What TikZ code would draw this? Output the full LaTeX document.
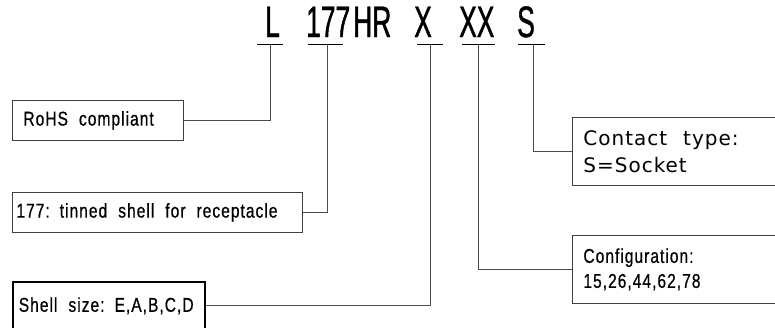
\documentclass[tikz,border=0pt]{standalone}
\usepackage{fontspec}
\setmainfont{Liberation Sans}
\newfontfamily\codefont[FakeStretch=0.6,FakeBold=1]{Liberation Sans}
\newfontfamily\cadfont[FakeStretch=0.78,FakeBold=0.6,LetterSpace=5]{Liberation Sans}
\newfontfamily\roundfont[LetterSpace=5]{DejaVu Sans}
\protected\def\cadsize{\fontsize{20}{25}\selectfont\parindent=0pt\fontdimen2\font=11pt\relax}
\protected\def\roundsize{\fontsize{20}{27}\selectfont\parindent=0pt\fontdimen2\font=16pt\relax}
\usetikzlibrary{positioning}

\begin{document}
\begin{tikzpicture}[
    x=1pt, y=-1pt,
    code/.style={
		anchor=base west,
		inner sep=0pt,
		font=\codefont\fontsize{44}{44}\selectfont
	},
	part/.style={
		rectangle,
		draw=black!75,
		line width=0.8pt,
		anchor=north west,
		inner ysep=0pt,
		font=\cadfont\cadsize,
		execute at begin node={\spaceskip=11pt plus 2pt\relax}
	},
	tick/.style={
		draw=black,
		line width=0.8pt
	},
	lead/.style={
		draw=black!70,
		line width=0.8pt
	}
  ]
  \useasboundingbox (0,0) rectangle (775,327);

    % We start by placing the part number

  \node [code] (cL) at (265,37) {L};
  \node [code] (c177) at (306,37) {177};
  \node [code] (cHR) at (353,37) {HR};
  \node [code] (cX) at (414,37) {X};
  \node [code] (cXX) at (459,37) {XX};
  \node [code] (cS) at (517,37) {S};

  \coordinate (tL) at (270,44);
  \coordinate (t177) at (327,44);
  \coordinate (tX) at (430,44);
  \coordinate (tXX) at (478,44);
  \coordinate (tS) at (533,44);

  \draw [tick] ([xshift=-13pt]tL) -- ([xshift=13pt]tL);
  \draw [tick] ([xshift=-19pt]t177) -- ([xshift=16pt]t177);
  \draw [tick] ([xshift=-13pt]tX) -- ([xshift=13pt]tX);
  \draw [tick] ([xshift=-16pt]tXX) -- ([xshift=17pt]tXX);
  \draw [tick] ([xshift=-15pt]tS) -- ([xshift=12pt]tS);

    % then the boxes

  \node [part, minimum width=171pt, minimum height=40pt,
         text width=149pt, inner xsep=11pt] (rohs) at (12,100)
 {RoHS compliant};

  \node [part, minimum width=290pt, minimum height=40pt,
         text width=282pt, inner xsep=3pt] (tinned) at (12,192)
 {177: tinned shell for receptacle};

  \node [part, draw=black, line width=1.6pt, minimum width=192pt, minimum height=48pt,
         text width=180pt, inner xsep=6pt] (shell) at (12,281)
 {Shell size: E,A,B,C,D};

  \node [part, minimum width=230pt, minimum height=68pt,
         text width=208pt, inner xsep=11pt,
         font=\roundfont\roundsize,
         execute at begin node={\spaceskip=16pt plus 2pt\relax}] (contact) at (572,117)
 {Contact type:\\S=Socket};

  \node [part, minimum width=230pt, minimum height=68pt,
         text width=208pt, inner xsep=11pt] (config) at (572,235)
 {Configuration:\\15,26,44,62,78};

    % and the leaders

 \draw [lead] (tL) |- (rohs.east);
 \draw [lead] (t177) |- (tinned.east);
 \draw [lead] (tX) |- (shell.east);
 \draw [lead] (tXX) |- (config.west);
 \draw [lead] (tS) |- (contact.west);

\end{tikzpicture}
\end{document}
